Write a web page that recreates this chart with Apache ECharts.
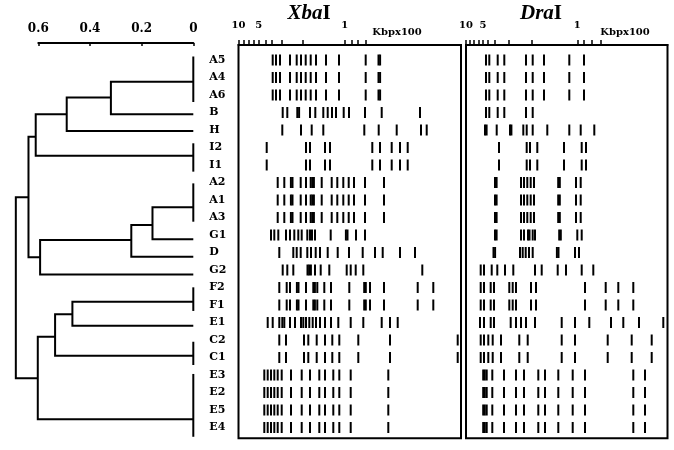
<!DOCTYPE html>
<html>
<head>
<meta charset="utf-8">
<script src="https://cdn.jsdelivr.net/npm/echarts@6/dist/echarts.min.js"></script>
<style>
html, body { margin: 0; background: #fff; }
#chart { width: 674px; height: 450px; }
</style>
</head>
<body>
<div id="chart"></div>
<script>
// strains, top to bottom
const strains = ['A5','A4','A6','B','H','I2','I1','A2','A1','A3','G1','D','G2','F2','F1','E1','C2','C1','E3','E2','E5','E4'];

// band positions = migration distance along each gel (same units as its axis)
const xbaA456 = [34.2, 37.5, 41.5, 51.5, 58.2, 62.5, 67.2, 72.2, 77.5, 87.5, 100.5, 127.2, 140, 141.6];
const xbaB    = [44.2, 48.8, 58.8, 60.6, 71.5, 76.8, 84.8, 89.2, 93.5, 97.5, 105.2, 110.5, 126.5, 143.2, 181.5];
const xbaH    = [43.8, 62.5, 73.2, 84.8, 125.8, 140.2, 158.2, 182.5, 188.2];
const xbaI    = [28.2, 67.5, 71.5, 86.5, 91.5, 133.8, 141.5, 153.2, 161.5, 169.2];
const xbaA123 = [39.2, 45.8, 52.4, 54, 62.2, 67.5, 72.2, 73.8, 75.4, 83.2, 93.2, 98.8, 104.8, 110.2, 115.5, 126.5, 145.5];
const xbaG1   = [32.5, 35.8, 39.8, 47.5, 51.5, 55.8, 59.8, 63.2, 68.8, 71.5, 73.5, 76.5, 92.2, 107.4, 109, 117.5, 126.5];
const xbaD    = [40.8, 54.8, 58.2, 62.2, 68.8, 72.5, 77.2, 81.5, 89.2, 99.2, 110.5, 124.2, 136.5, 144.2, 161.5, 176.5];
const xbaG2   = [44.2, 48.8, 54.8, 69, 70.6, 72.4, 76.5, 82.2, 90.8, 108.2, 112.2, 117.2, 124.8, 183.8];
const xbaF    = [40.8, 48.2, 51.5, 58.4, 60, 67.5, 74.8, 76.4, 78.8, 85.8, 92.5, 110.8, 125.7, 127.3, 131.5, 145.5, 179.2, 194.8];
const xbaE1   = [29.2, 34.2, 40.8, 43.8, 45.8, 51.5, 56.5, 62.5, 64.8, 67.5, 70.8, 74.2, 77.5, 81.5, 86.5, 92.5, 99.8, 112.2, 124.8, 143.2, 151.5, 159.2];
const xbaC    = [40.8, 47.5, 65.5, 69.8, 78.2, 86.5, 93.8, 100.8, 119.8, 151.5, 219.2];
const xbaE    = [25.8, 29.2, 32.5, 35.8, 39.2, 43.2, 52.5, 63.2, 71.5, 80.8, 86.5, 94.8, 100.8, 112.2, 149.8];

const draA456 = [20, 23.3, 31.7, 38.3, 60, 66.7, 78, 103.3, 118];
const draB    = [20, 23.3, 31.7, 38.3, 60, 66.7];
const draH    = [19, 20.6, 30.7, 44, 45.4, 57.3, 60.7, 66.7, 81.3, 103.3, 114.7, 128.3];
const draI    = [33, 60.7, 64, 71.3, 98, 115.7, 120];
const draA123 = [29, 30.6, 55, 58, 61.3, 64.7, 68, 92.2, 93.8, 110, 114.7];
const draG1   = [29, 30.6, 55, 58, 62, 63.5, 66.7, 69, 93.2, 94.8, 111.3, 115.7];
const draD    = [27.5, 29.1, 54, 56.7, 59.7, 63, 66.7, 90.9, 92.5, 109, 113];
const draG2   = [14.7, 18, 25.7, 31.3, 39, 47.3, 69, 75.7, 91.7, 100, 115.7, 127.3];
const draF    = [14.7, 18, 24.7, 28, 43.3, 46.7, 50, 65, 70, 119, 139.7, 152.3, 167.3];
const draE1   = [14, 18, 24.7, 28, 44.7, 50, 55, 60, 69, 95.7, 109, 123.3, 145, 157.3, 173, 197.3];
const draC    = [14.7, 18, 22.3, 26.7, 35, 53.3, 61.7, 95.7, 109, 141.7, 165.7, 185.7];
const draE    = [17.2, 18.8, 20.7, 26.3, 38, 50, 58, 72.3, 79, 92.3, 106.7, 119, 167.3, 179];

const xbaProfiles = [xbaA456, xbaA456, xbaA456, xbaB, xbaH, xbaI, xbaI, xbaA123, xbaA123, xbaA123, xbaG1, xbaD, xbaG2, xbaF, xbaF, xbaE1, xbaC, xbaC, xbaE, xbaE, xbaE, xbaE];
const draProfiles = [draA456, draA456, draA456, draB, draH, draI, draI, draA123, draA123, draA123, draG1, draD, draG2, draF, draF, draE1, draC, draC, draE, draE, draE, draE];

// size marker ticks (Kbp x100) along each gel
const xbaTicks = [0, 5.2, 10.2, 15.2, 20.2, 26.8, 33.5, 42.8, 64.2, 106.2, 112.8, 119.5, 126.8];
const xbaLabelPos = [0, 20.2, 106.2];
const draTicks = [0, 3.7, 8, 12.7, 17, 22, 28.7, 42.7, 66, 111.3, 118, 125.3, 134.7];
const draLabelPos = [0, 17, 111.3];
const sizeLabels = ['10', '5', '1'];

// dendrogram branches: [distance, row]
const treeLines = [
  [[0, -0.2], [0, 2.4]],
  [[0, 1.24], [0.319, 1.24], [0.319, 3.1], [0, 3.1]],
  [[0.319, 2.15], [0.49, 2.15], [0.49, 4.06], [0, 4.06]],
  [[0, 4.76], [0, 6.38]],
  [[0.49, 3.1], [0.61, 3.1], [0.61, 5.47], [0, 5.47]],
  [[0, 7.05], [0, 9.24]],
  [[0, 8.42], [0.158, 8.42], [0.158, 10.25], [0, 10.25]],
  [[0.158, 9.43], [0.24, 9.43], [0.24, 11.24], [0, 11.24]],
  [[0.24, 10.29], [0.593, 10.29], [0.593, 12.25], [0, 12.25]],
  [[0.61, 4.38], [0.638, 4.38], [0.638, 11.27], [0.593, 11.27]],
  [[0, 12.99], [0, 14.34]],
  [[0, 13.81], [0.468, 13.81], [0.468, 15.18], [0, 15.18]],
  [[0, 16.1], [0, 17.43]],
  [[0.468, 14.53], [0.535, 14.53], [0.535, 16.9], [0, 16.9]],
  [[0, 17.94], [0, 21.53]],
  [[0.535, 15.81], [0.602, 15.81], [0.602, 20.53], [0, 20.53]],
  [[0.638, 7.85], [0.687, 7.85], [0.687, 18.19], [0.602, 18.19]]
];

const serif = 'DejaVu Serif';
const rowMin = -0.857, rowMax = 21.617;

function bands(profiles) {
  const out = [];
  profiles.forEach(function (row, i) {
    row.forEach(function (pos) { out.push([pos, i]); });
  });
  return out;
}

function bandItem(params, api) {
  const p = api.coord([api.value(0), api.value(1)]);
  return { type: 'rect', shape: { x: p[0] - 1, y: p[1] - 5.5, width: 2, height: 11 }, style: { fill: '#000' } };
}

function treeItem(params, api) {
  const pts = treeLines[params.dataIndex].map(function (pt) { return api.coord(pt); });
  return { type: 'polyline', shape: { points: pts }, style: { stroke: '#000', lineWidth: 2, fill: null } };
}

function gelAxis(gridIndex, max, ticks, labelPos) {
  return {
    type: 'value', gridIndex: gridIndex, position: 'top', min: 0, max: max,
    axisLine: { show: true, onZero: false, lineStyle: { color: '#000', width: 2 } },
    axisTick: { show: true, length: 5, customValues: ticks, lineStyle: { color: '#000', width: 1.5 } },
    axisLabel: {
      show: true, customValues: labelPos, margin: 15, color: '#000',
      fontFamily: serif, fontWeight: 'bold', fontSize: 10,
      formatter: function (v) {
        let best = 0;
        labelPos.forEach(function (p, k) { if (Math.abs(p - v) < Math.abs(labelPos[best] - v)) best = k; });
        return sizeLabels[best];
      }
    },
    splitLine: { show: false }
  };
}

function rowAxis(gridIndex) {
  return {
    type: 'value', gridIndex: gridIndex, inverse: true, min: rowMin, max: rowMax,
    axisLine: { show: false }, axisTick: { show: false }, axisLabel: { show: false }, splitLine: { show: false }
  };
}

const chart = echarts.init(document.getElementById('chart'));
chart.setOption({
  backgroundColor: '#fff',
  animation: false,
  title: [
    { text: '{i|Xba}{n|I}', left: 304, top: -2, textAlign: 'center',
      textStyle: { rich: {
        i: { fontFamily: 'Liberation Serif', fontStyle: 'italic', fontWeight: 'bold', fontSize: 21, color: '#000' },
        n: { fontFamily: 'Liberation Serif', fontWeight: 'bold', fontSize: 21, color: '#000' } } } },
    { text: '{i|Dra}{n|I}', left: 536, top: -2, textAlign: 'center',
      textStyle: { rich: {
        i: { fontFamily: 'Liberation Serif', fontStyle: 'italic', fontWeight: 'bold', fontSize: 21, color: '#000' },
        n: { fontFamily: 'Liberation Serif', fontWeight: 'bold', fontSize: 21, color: '#000' } } } },
    { text: 'Kbpx100', left: 392, top: 22, textAlign: 'center',
      textStyle: { fontFamily: serif, fontWeight: 'bold', fontSize: 10, color: '#000' } },
    { text: 'Kbpx100', left: 620, top: 22, textAlign: 'center',
      textStyle: { fontFamily: serif, fontWeight: 'bold', fontSize: 10, color: '#000' } }
  ],
  grid: [
    { left: 38.3, top: 45, width: 155, height: 393.3, outerBoundsMode: 'none' },
    { left: 238.5, top: 45, width: 222.5, height: 393.3, show: true, borderColor: '#000', borderWidth: 2, outerBoundsMode: 'none' },
    { left: 466, top: 45, width: 201.5, height: 393.3, show: true, borderColor: '#000', borderWidth: 2, outerBoundsMode: 'none' }
  ],
  xAxis: [
    {
      type: 'value', gridIndex: 0, position: 'top', inverse: true, min: 0, max: 0.6, interval: 0.2, offset: 2,
      axisLine: { show: true, onZero: false, lineStyle: { color: '#000', width: 2 } },
      axisTick: { show: true, inside: true, length: 3, lineStyle: { color: '#000', width: 1.5 } },
      axisLabel: { margin: 8, color: '#000', fontFamily: serif, fontWeight: 'bold', fontSize: 12,
        formatter: function (v) { return v === 0 ? '0' : v.toFixed(1); } },
      splitLine: { show: false }
    },
    gelAxis(1, 222.5, xbaTicks, xbaLabelPos),
    gelAxis(2, 201.5, draTicks, draLabelPos)
  ],
  yAxis: [
    {
      type: 'value', gridIndex: 0, inverse: true, min: rowMin, max: rowMax, position: 'right',
      axisLine: { show: false, onZero: false }, axisTick: { show: false }, splitLine: { show: false },
      axisLabel: { show: true, customValues: strains.map(function (s, i) { return i; }), margin: 16,
        color: '#000', fontFamily: serif, fontWeight: 'bold', fontSize: 11,
        formatter: function (v) { return strains[Math.round(v)]; } }
    },
    rowAxis(1),
    rowAxis(2)
  ],
  series: [
    { type: 'custom', xAxisIndex: 0, yAxisIndex: 0, clip: false, renderItem: treeItem,
      data: treeLines.map(function (l) { return l[0]; }) },
    { type: 'custom', xAxisIndex: 1, yAxisIndex: 1, renderItem: bandItem, data: bands(xbaProfiles) },
    { type: 'custom', xAxisIndex: 2, yAxisIndex: 2, renderItem: bandItem, data: bands(draProfiles) }
  ]
});
</script>
</body>
</html>
